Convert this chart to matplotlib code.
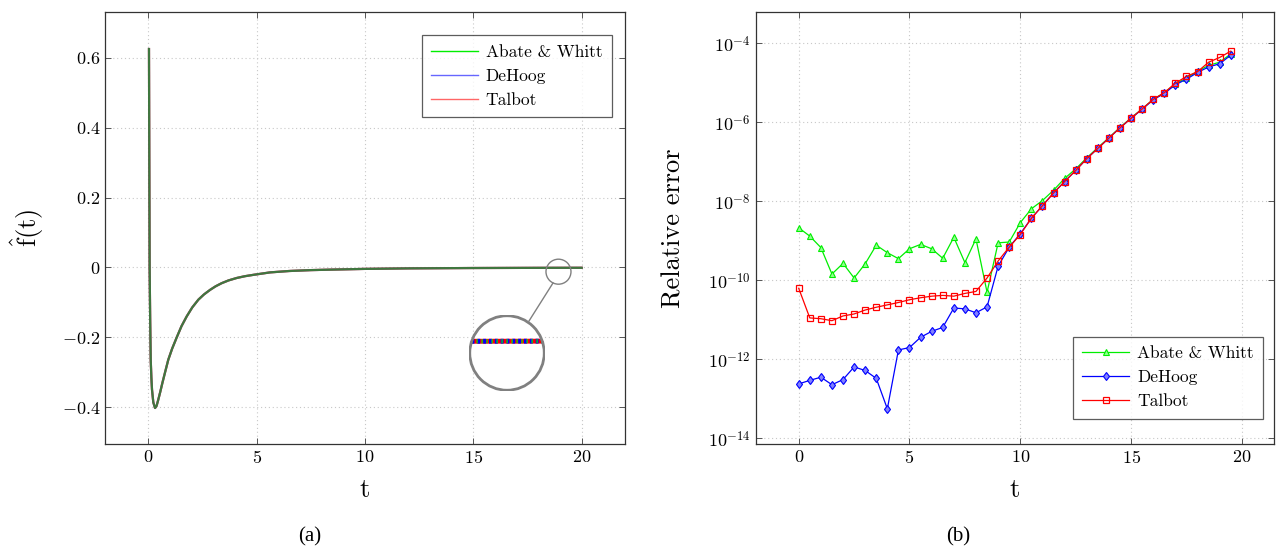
import matplotlib
matplotlib.use('Agg')
import matplotlib.pyplot as plt
import numpy as np
from matplotlib.patches import Circle, Ellipse
from matplotlib.lines import Line2D

plt.rcParams['mathtext.fontset'] = 'cm'
plt.rcParams['font.family'] = ['cmr10', 'DejaVu Serif']
plt.rcParams['axes.unicode_minus'] = False

# (a) numerical inversion f(t), all three methods on top of each other
t_curve = [0.03, 0.045, 0.06, 0.085, 0.11, 0.14, 0.17, 0.23, 0.31, 0.38, 0.46, 0.55,
           0.65, 0.78, 0.92, 1.1, 1.31, 1.53, 1.77, 2.03, 2.31, 2.57, 2.85, 3.1,
           3.38, 3.7, 4.08, 4.45, 4.85, 5.62, 6.51, 7.5, 8.5, 10.0, 12.0, 15.0, 18.0, 20.0]
f_curve = [0.625, 0.30, 0.0, -0.15, -0.264, -0.315, -0.35, -0.386, -0.402, -0.396,
           -0.378, -0.356, -0.330, -0.298, -0.264, -0.232, -0.200, -0.168, -0.140,
           -0.114, -0.092, -0.077, -0.064, -0.054, -0.045, -0.037, -0.030, -0.025,
           -0.021, -0.014, -0.010, -0.0075, -0.006, -0.004, -0.0025, -0.0015,
           -0.001, -0.0008]

# (b) relative error, log10 of values
t_err = [0, 0.5, 1, 1.5, 2, 2.5, 3, 3.5, 4, 4.5, 5, 5.5, 6, 6.5, 7, 7.5, 8, 8.5, 9, 9.5,
         10, 10.5, 11, 11.5, 12, 12.5, 13, 13.5, 14, 14.5, 15, 15.5, 16, 16.5, 17, 17.5,
         18, 18.5, 19, 19.5]
aw_log = [-8.67, -8.88, -9.17, -9.84, -9.57, -9.94, -9.58, -9.11, -9.30, -9.45,
          -9.20, -9.09, -9.20, -9.44, -8.91, -9.55, -8.95, -10.30, -9.05, -9.03,
          -8.54, -8.19, -7.98, -7.72, -7.42, -7.18, -6.90, -6.64, -6.39, -6.13,
          -5.89, -5.66, -5.42, -5.25, -5.03, -4.88, -4.71, -4.56, -4.48, -4.27]
dh_log = [-12.62, -12.53, -12.45, -12.64, -12.51, -12.19, -12.28, -12.48, -13.25, -11.76,
          -11.70, -11.44, -11.29, -11.19, -10.70, -10.72, -10.82, -10.67, -9.64, -9.16,
          -8.82, -8.43, -8.11, -7.79, -7.50, -7.22, -6.92, -6.66, -6.40, -6.14,
          -5.90, -5.67, -5.43, -5.27, -5.05, -4.91, -4.74, -4.60, -4.52, -4.30]
tb_log = [-10.20, -10.95, -10.97, -11.02, -10.90, -10.85, -10.75, -10.68, -10.62, -10.56,
          -10.49, -10.44, -10.40, -10.38, -10.40, -10.33, -10.28, -9.94, -9.51, -9.16,
          -8.84, -8.43, -8.11, -7.79, -7.50, -7.22, -6.92, -6.66, -6.40, -6.14,
          -5.90, -5.66, -5.42, -5.25, -5.01, -4.84, -4.72, -4.48, -4.36, -4.20]

labels = ['Abate & Whitt', 'DeHoog', 'Talbot']
GREEN, BLUE, RED = '#00ee00', '#0000ff', '#ff0000'

W, H = 1279, 549
fig = plt.figure(figsize=(W / 100, H / 100), dpi=100)

def box(x0, x1, y0, y1):
    return [x0 / W, 1 - y1 / H, (x1 - x0) / W, (y1 - y0) / H]

ax1 = fig.add_axes(box(105, 625, 12, 444))
ax2 = fig.add_axes(box(755.5, 1274, 12, 444))

def style(ax):
    ax.grid(True, color='#c8c8c8', linestyle=(0, (1, 2.5)), linewidth=0.8)
    ax.set_axisbelow(True)
    ax.tick_params(direction='in', which='both', top=True, right=True, length=4,
                   width=0.7, color='#555555', labelsize=13)
    for s in ax.spines.values():
        s.set_color('#333333')
        s.set_linewidth(0.9)

leg_kw = dict(fontsize=12.5, frameon=True, fancybox=False, edgecolor='#333333',
              handlelength=2.7, handletextpad=0.45, borderpad=0.55,
              labelspacing=0.5, borderaxespad=0)

# ---- panel (a): red drawn first, blue and green half transparent on top
ax1.plot(t_curve, f_curve, color=RED, lw=1.6)
ax1.plot(t_curve, f_curve, color=BLUE, lw=1.6, alpha=0.5)
ax1.plot(t_curve, f_curve, color=GREEN, lw=1.6, alpha=0.5)
ax1.set_xlim(-2, 22)
ax1.set_ylim(-0.505, 0.731)
ax1.set_xticks([0, 5, 10, 15, 20])
ax1.set_yticks([-0.4, -0.2, 0, 0.2, 0.4, 0.6])
ax1.set_xticklabels([r'$%d$' % v for v in [0, 5, 10, 15, 20]])
ax1.set_yticklabels([r'$-0.4$', r'$-0.2$', r'$0$', r'$0.2$', r'$0.4$', r'$0.6$'])
style(ax1)
ax1.set_xlabel('t', fontsize=19, labelpad=9)
ax1.set_ylabel(r'$\hat{\mathrm{f}}\mathrm{(t)}$', fontsize=19, labelpad=11)

h1 = [Line2D([], [], color=GREEN, lw=1.0),
      Line2D([], [], color=BLUE, lw=1.0, alpha=0.6),
      Line2D([], [], color=RED, lw=1.0, alpha=0.6)]
leg1 = ax1.legend(h1, labels, loc='upper right', bbox_to_anchor=(0.975, 0.947), **leg_kw)
leg1.get_frame().set_linewidth(0.9)

# spy: small circle at t~19, magnified circle below
sx, sy, r_small = 18.93, -0.012, 12.5
px_x = 520 / 24.0
px_y = 432 / (0.731 + 0.505)
ax1.add_patch(Ellipse((sx, sy), 2 * r_small / px_x, 2 * r_small / px_y, fill=False,
                      ec='#808080', lw=1.0, zorder=5))
bx, by, r_big = 507, 353, 38
fig.add_artist(Line2D([529 / W, 553 / W], [1 - 321 / H, 1 - 283 / H],
                      color='#808080', lw=1.0))
axi = fig.add_axes(box(bx - r_big, bx + r_big, by - r_big, by + r_big))
axi.set_xlim(sx - r_small / px_x, sx + r_small / px_x)
axi.set_ylim(sy - r_small / px_y, sy + r_small / px_y)
axi.set_axis_off()
axi.add_patch(Circle((0.5, 0.5), 0.5, transform=axi.transAxes, fc='white', ec='none',
                     zorder=0))
clip = Circle((0.5, 0.5), 0.5, transform=axi.transAxes)
for c, ls, lw in [(RED, '-', 3.5), (BLUE, (0, (0.6, 0.6)), 3.5), (GREEN, (0.6, (0.3, 0.9)), 3.0)]:
    ln, = axi.plot(t_curve, f_curve, color=c, lw=lw, ls=ls)
    ln.set_clip_path(clip)
axi.add_patch(Circle((0.5, 0.5), 0.49, transform=axi.transAxes, fill=False,
                     ec='#808080', lw=2.0, zorder=10))

# ---- panel (b)
ax2.plot(t_err, 10 ** np.array(aw_log), color=GREEN, lw=0.9, marker='^', ms=4.5,
         mfc='#90ff90', mec=GREEN, mew=0.8, label=labels[0])
ax2.plot(t_err, 10 ** np.array(dh_log), color=BLUE, lw=0.9, marker='d', ms=4.5,
         mfc='#8080ff', mec=BLUE, mew=0.8, label=labels[1])
ax2.plot(t_err, 10 ** np.array(tb_log), color=RED, lw=0.9, marker='s', ms=5,
         mfc='none', mec=RED, mew=0.9, label=labels[2])
ax2.set_yscale('log')
ax2.set_xlim(-1.95, 21.45)
ax2.set_ylim(10 ** -14.14, 10 ** -3.21)
ax2.set_xticks([0, 5, 10, 15, 20])
ax2.set_xticklabels([r'$%d$' % v for v in [0, 5, 10, 15, 20]])
exps = [-14, -12, -10, -8, -6, -4]
ax2.set_yticks([10.0 ** e for e in exps])
ax2.set_yticklabels([r'$10^{%d}$' % e for e in exps])
ax2.minorticks_off()
style(ax2)
ax2.set_xlabel('t', fontsize=19, labelpad=9)
ax2.set_ylabel('Relative error', fontsize=19, labelpad=16)
leg2 = ax2.legend(loc='lower right', bbox_to_anchor=(0.979, 0.058), **leg_kw)
leg2.get_frame().set_linewidth(0.9)

fig.text(310 / W, 1 - 537 / H, '(a)', ha='center', va='center', fontsize=15,
         family='Liberation Serif')
fig.text(958 / W, 1 - 537 / H, '(b)', ha='center', va='center', fontsize=15,
         family='Liberation Serif')

fig.savefig('out.png', dpi=100)
